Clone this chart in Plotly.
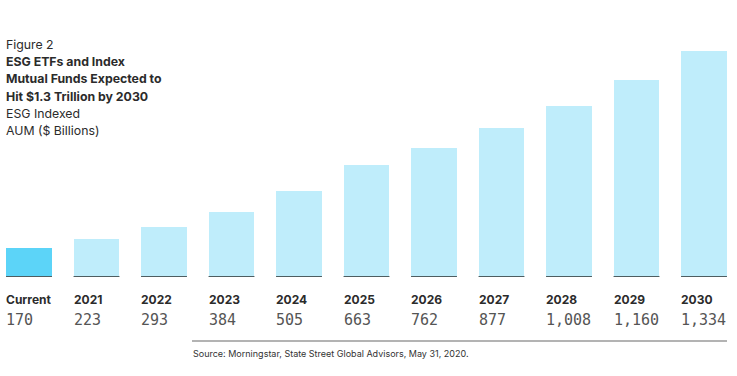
import plotly.graph_objects as go

categories = ["Current", "2021", "2022", "2023", "2024", "2025", "2026", "2027", "2028", "2029", "2030"]
values = [170, 223, 293, 384, 505, 663, 762, 877, 1008, 1160, 1334]
value_labels = ["170", "223", "293", "384", "505", "663", "762", "877", "1,008", "1,160", "1,334"]

title_lines = ["ESG ETFs and Index", "Mutual Funds Expected to", "Hit $1.3 Trillion by 2030"]
subtitle_lines = ["ESG Indexed", "AUM ($ Billions)"]
source_text = "Source: Morningstar, State Street Global Advisors, May 31, 2020."

W, H = 737, 376
BASE = 277               # bar baseline pixel
STEP = 67.5
C0 = 29                  # centre of first bar
BAR_W = 0.68
colors = ["#5CD4F8"] + ["#BFEDFB"] * (len(categories) - 1)
xs = list(range(len(categories)))

fig = go.Figure()
fig.add_trace(go.Bar(x=xs, y=values, width=BAR_W, marker=dict(color=colors, line=dict(width=0)),
                     hoverinfo="skip"))

for i in xs:
    fig.add_shape(type="line", xref="x", yref="y", x0=i - BAR_W / 2, x1=i + BAR_W / 2, y0=0, y1=0,
                  line=dict(color="#4E5D61", width=2))

font_main = "Inter, Open Sans, sans-serif"
for i, (c, v) in enumerate(zip(categories, value_labels)):
    fig.add_annotation(x=i - BAR_W / 2, y=0, xref="x", yref="y", text="<b>" + c + "</b>",
                       showarrow=False, xanchor="left", yanchor="middle", yshift=-22, xshift=-2,
                       font=dict(family=font_main, size=12, color="#2b2b2b"))
    fig.add_annotation(x=i - BAR_W / 2, y=0, xref="x", yref="y", text=v,
                       showarrow=False, xanchor="left", yanchor="middle", yshift=-43, xshift=-2,
                       font=dict(family="DejaVu Sans Mono, monospace", size=15, color="#555555"))

ys = [44, 61, 78, 96, 113, 131]
texts = ["Figure 2"] + ["<b>" + t + "</b>" for t in title_lines] + subtitle_lines
for t, py in zip(texts, ys):
    fig.add_annotation(x=6 / W, y=(BASE - py) / BASE, xref="paper", yref="paper", text=t,
                       showarrow=False, xanchor="left", yanchor="middle", xshift=-2,
                       font=dict(family=font_main, size=12.3, color="#2b2b2b"))

ly = (BASE - 341) / BASE
fig.add_shape(type="line", xref="paper", yref="paper", x0=192 / W, x1=727 / W,
              y0=ly, y1=ly, line=dict(color="#9a9a9a", width=1.5))
fig.add_annotation(x=331 / W, y=(BASE - 353) / BASE, xref="paper", yref="paper", text=source_text,
                   showarrow=False, xanchor="center", yanchor="middle",
                   font=dict(family=font_main, size=9, color="#333333"))

fig.update_layout(
    width=W, height=H,
    margin=dict(l=0, r=0, t=0, b=H - BASE),
    paper_bgcolor="white", plot_bgcolor="white",
    showlegend=False,
    xaxis=dict(range=[-C0 / STEP, (W - C0) / STEP], visible=False, fixedrange=True),
    yaxis=dict(range=[0, 1334 * BASE / 226], visible=False, fixedrange=True),
    bargap=0,
)

fig.write_html("out.html", config={"displayModeBar": False},
               post_script="document.body.style.margin='0';document.body.style.overflow='hidden';")
